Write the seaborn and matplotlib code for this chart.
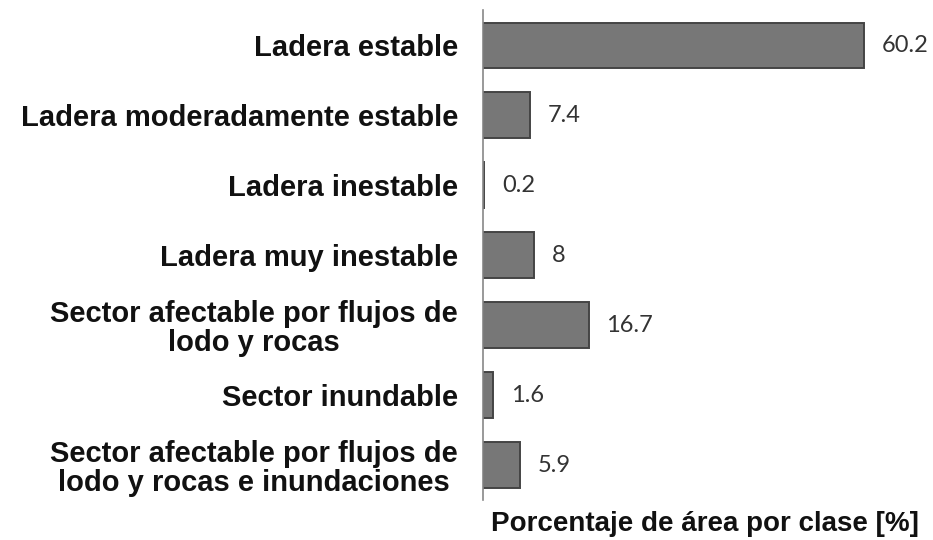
import matplotlib
matplotlib.use("Agg")
import matplotlib.pyplot as plt
import seaborn as sns
import pandas as pd

# Data
clases = ["Ladera estable",
          "Ladera moderadamente estable",
          "Ladera inestable",
          "Ladera muy inestable",
          "Sector afectable por flujos de\nlodo y rocas",
          "Sector inundable",
          "Sector afectable por flujos de\nlodo y rocas e inundaciones"]
porcentaje = [60.2, 7.4, 0.2, 8, 16.7, 1.6, 5.9]
etiquetas = ["60.2", "7.4", "0.2", "8", "16.7", "1.6", "5.9"]

sns.set_theme(style="white")
plt.rcParams['font.family'] = ['Liberation Sans', 'DejaVu Sans']

df = pd.DataFrame({"clase": clases, "pct": porcentaje})

fig = plt.figure(figsize=(9.33, 5.40), dpi=100)
ax = fig.add_axes([0.5177, 0.074, 0.475, 0.907])

sns.barplot(data=df, x="pct", y="clase", color="#777777", width=0.65,
            edgecolor="#444444", linewidth=1.4, saturation=1, ax=ax)

# value labels
for bar, txt in zip(ax.patches, etiquetas):
    ax.text(bar.get_width() + 2.8, bar.get_y() + bar.get_height() / 2, txt,
            va="center", ha="left", fontsize=17, color="#333333",
            family=["Lato", "DejaVu Sans"])

ax.set_xlim(0, 70)
ax.set_ylim(6.5, -0.5)
ax.set_xticks([])
ax.set_ylabel("")
ax.set_xlabel("Porcentaje de área por clase [%]", fontsize=20, fontweight="bold",
              labelpad=8, color="#111111")
ax.tick_params(axis="y", length=0, pad=18)
ax.set_yticks(range(len(clases)))
ax.set_yticklabels(clases, fontsize=21, fontweight="bold", color="#111111",
                   ha="right", multialignment="center", linespacing=1.05)

sns.despine(ax=ax, left=False, bottom=True, top=True, right=True)
ax.spines["left"].set_color("#888888")
ax.spines["left"].set_linewidth(1.2)

fig.savefig("out.png", dpi=100)
